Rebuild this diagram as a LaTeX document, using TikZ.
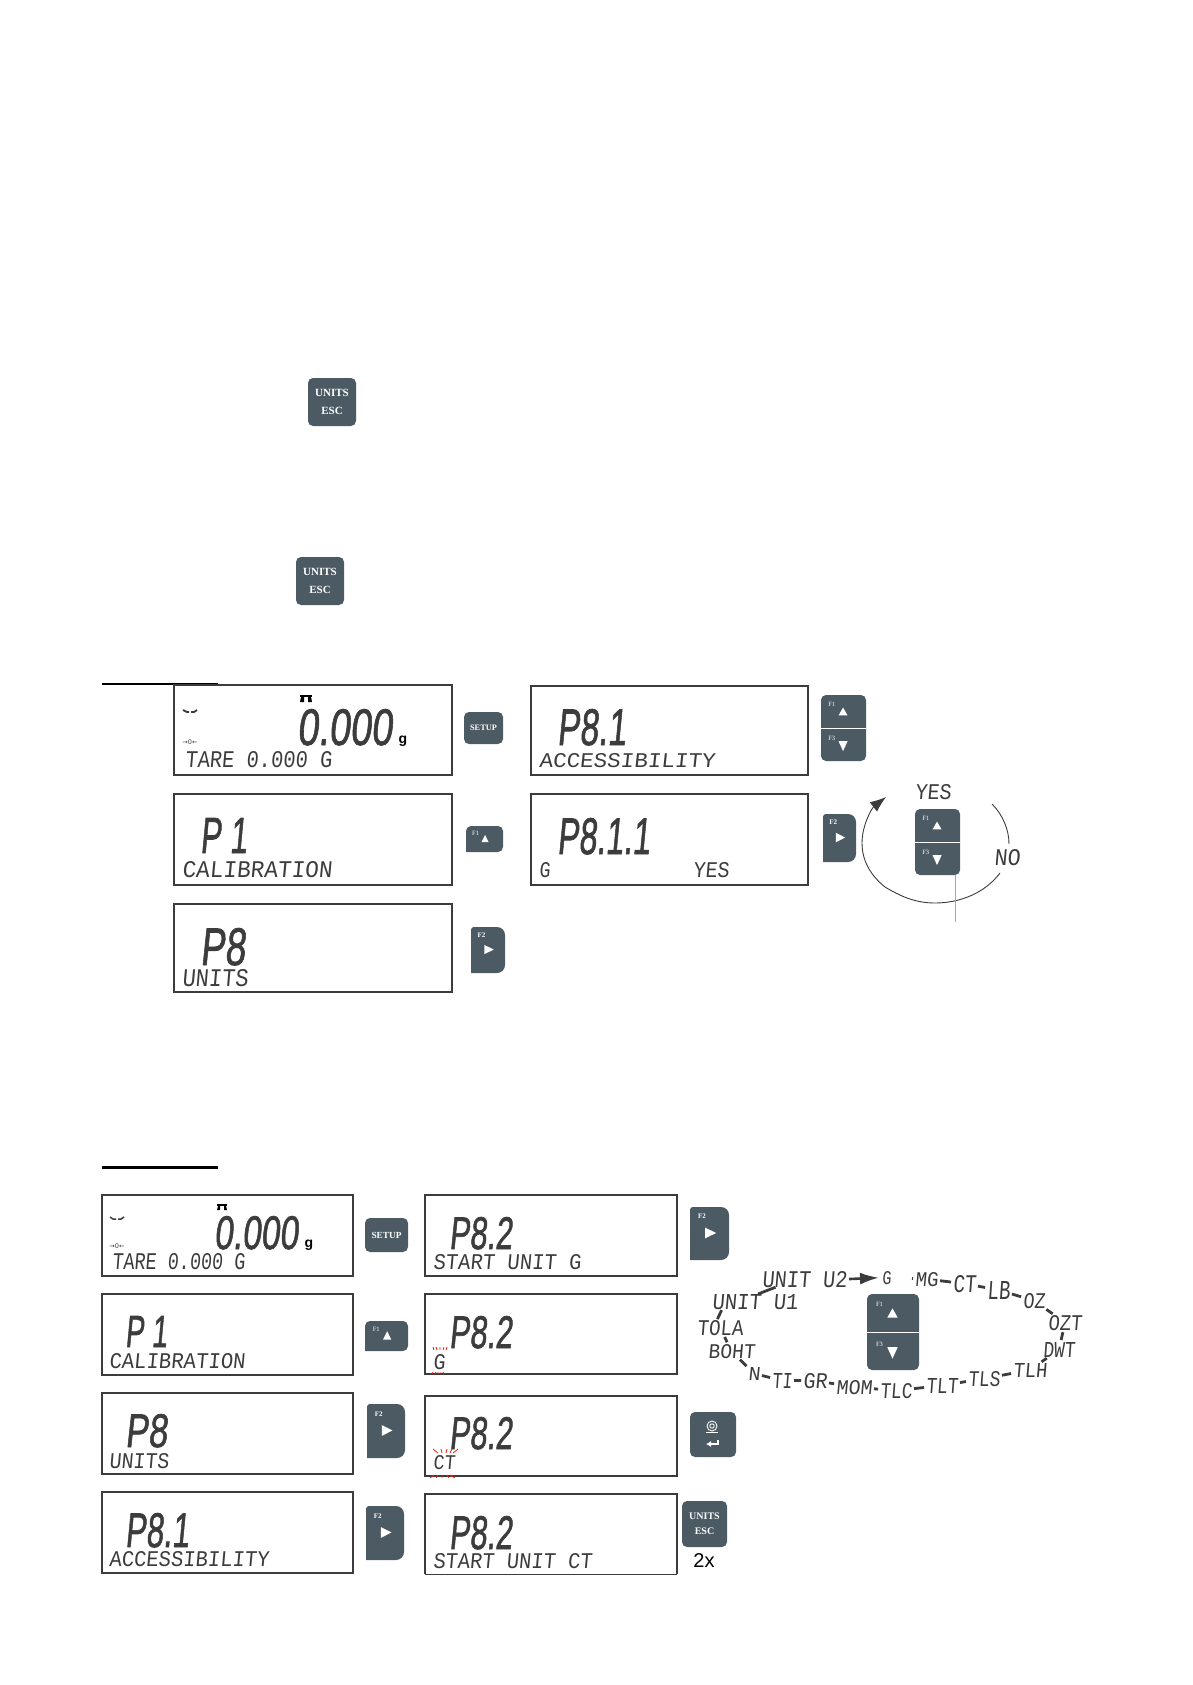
\documentclass[tikz,border=0pt]{standalone}
\usepackage{graphicx}
\usepackage{fontspec}
\usetikzlibrary{arrows.meta}
\newfontfamily\lcdbig[FakeSlant=0.15,FakeBold=1.5]{Liberation Sans}
\newfontfamily\lcdsmall[FakeSlant=0.1]{Liberation Mono}
\newfontfamily\keyfont{Liberation Serif}
\newfontfamily\symfont{DejaVu Sans}
\newfontfamily\plainsans{Liberation Sans}
\definecolor{keygrey}{HTML}{4C5A64}
\definecolor{lcdink}{HTML}{3C3C3C}
\newcommand{\lcdfit}[3]{\resizebox{#1pt}{#2pt}{#3}}
\newcommand{\keyupdown}[5]{
    \node(#1)[keybody,minimum width=#4,minimum height=#5] at (#2+#4/2,#3+#5/2){};
    \draw[white,line width=1](#1.west)--(#1.east);
    \node(#1up)[keytag] at (#2+#4*0.24,#3+#5*0.14){F1};
    \node(#1down)[keytag] at (#2+#4*0.24,#3+#5*0.66){F3};
    \fill[white](#2+#4*0.39,#3+#5*0.31)--(#2+#4*0.59,#3+#5*0.31)--(#2+#4*0.49,#3+#5*0.19)--cycle;
    \fill[white](#2+#4*0.39,#3+#5*0.70)--(#2+#4*0.59,#3+#5*0.70)--(#2+#4*0.49,#3+#5*0.85)--cycle;
}
\newcommand{\keyup}[5]{
    \fill[keygrey,rounded corners=5](#2,#3+#5)--(#2,#3)--(#2+#4,#3)--(#2+#4,#3+#5)[sharp corners]--cycle;
    \node(#1)[keytag] at (#2+#4*0.26,#3+#5*0.28){F1};
    \fill[white](#2+#4*0.42,#3+#5*0.62)--(#2+#4*0.61,#3+#5*0.62)--(#2+#4*0.515,#3+#5*0.34)--cycle;
}
\newcommand{\keyright}[5]{
    \fill[keygrey](#2,#3+#5)--(#2,#3+2)--(#2+2,#3)[rounded corners=8]--(#2+#4,#3)--(#2+#4,#3+#5)[sharp corners]--cycle;
    \node(#1)[keytag,font=\keyfont\bfseries\fontsize{7}{7}\selectfont] at (#2+#4*0.31,#3+#5*0.18){F2};
    \fill[white](#2+#4*0.39,#3+#5*0.39)--(#2+#4*0.67,#3+#5*0.49)--(#2+#4*0.39,#3+#5*0.59)--cycle;
}
\begin{document}
\begin{tikzpicture}[x=1pt,y=-1pt]
    \tikzstyle{lcd frame}=[draw=lcdink,line width=1.6,inner sep=0,outer sep=0]
    \tikzstyle{big text}=[anchor=north west,inner sep=0,outer sep=0,text=lcdink,font=\lcdbig\fontsize{46}{46}\selectfont]
    \tikzstyle{small text}=[anchor=north west,inner sep=0,outer sep=0,text=lcdink,font=\lcdsmall\fontsize{22}{22}\selectfont]
    \tikzstyle{zero mark}=[inner sep=0,text=lcdink,font=\symfont\fontsize{6.5}{6.5}\selectfont]
    \tikzstyle{unit mark}=[inner sep=0,text=black,font=\plainsans\bfseries\fontsize{14}{14}\selectfont]
    \tikzstyle{keybody}=[fill=keygrey,rounded corners=5,inner sep=0,outer sep=0]
    \tikzstyle{keytext}=[keybody,text=white,align=center,font=\keyfont\bfseries\fontsize{10}{15}\selectfont]
    \tikzstyle{keytag}=[inner sep=0,text=white,font=\keyfont\fontsize{6.5}{6.5}\selectfont]
    \tikzstyle{ring dash}=[draw=lcdink,line width=2.8,shorten <=2,shorten >=2]
    \tikzstyle{red rays}=[draw=red!80!orange,line width=0.8]
    \useasboundingbox (0,0) rectangle (1192,1685);

    \node(escone)[keytext,minimum width=48,minimum height=48,font=\keyfont\bfseries\fontsize{11}{18}\selectfont] at (332,402){UNITS\\ESC};
    \node(esctwo)[keytext,minimum width=48,minimum height=48,font=\keyfont\bfseries\fontsize{11}{18}\selectfont] at (320,581){UNITS\\ESC};

    \draw[line width=2](102,684)--(218,684);
    \node(topa)[lcd frame,minimum width=278,minimum height=90] at (313,730){};
    \node(topb)[lcd frame,minimum width=278,minimum height=91] at (313,839.5){};
    \node(topc)[lcd frame,minimum width=278,minimum height=88] at (313,948){};
    \node(topd)[lcd frame,minimum width=277,minimum height=89] at (669.5,730.5){};
    \node(tope)[lcd frame,minimum width=277,minimum height=91] at (669.5,839.5){};

    \fill[black](300,695)rectangle(312,697);
    \fill[black](301,697)--(304,697)--(304,702)--(300,702)--cycle;
    \fill[black](308,697)--(311,697)--(312,702)--(308,702)--cycle;
    \draw[lcdink,line width=1.8](183,710)--(187,712)--(189,712);
    \draw[lcdink,line width=1.8](191,712)--(194,712)--(197,710);
    \node(zeroa)[zero mark] at (190,742){→0←};
    \node(weigha)[big text] at (297,709){\lcdfit{95}{36}{0.000}};
    \node(grama)[unit mark] at (403,741){g};
    \node(tarea)[small text] at (185,751){\lcdfit{147}{16}{TARE 0.000 G}};
    \node(pone)[big text] at (200,818){\lcdfit{47}{35}{P 1}};
    \node(calib)[small text] at (182,861){\lcdfit{150}{16}{CALIBRATION}};
    \node(peight)[big text] at (200,928){\lcdfit{45}{37}{P8}};
    \node(units)[small text] at (182,969){\lcdfit{66}{17}{UNITS}};
    \node(peightone)[big text] at (557,709){\lcdfit{69}{36}{P8.1}};
    \node(access)[small text] at (539,753){\lcdfit{176}{14}{ACCESSIBILITY}};
    \node(pointone)[big text] at (557,818){\lcdfit{93}{36}{P8.1.1}};
    \node(gtext)[small text] at (539,862){\lcdfit{11}{15}{G}};
    \node(yestext)[small text] at (693,862){\lcdfit{36}{15}{YES}};

    \node(setupa)[keytext,minimum width=39,minimum height=32,font=\keyfont\bfseries\fontsize{8.3}{8.3}\selectfont] at (483.5,728){SETUP};
    \keyup{upa}{466}{826}{37}{26}
    \keyright{keyrighta}{471}{927}{34}{46}
    \keyupdown{updowna}{821}{695}{45}{66}
    \keyright{keyrightb}{823}{814}{33}{48}
    \keyupdown{updownb}{915}{809}{45}{66}

    \node(yesring)[small text] at (915,784){\lcdfit{36}{15}{YES}};
    \node(noring)[small text] at (994,849){\lcdfit{26}{16}{NO}};
    \draw[lcdink,line width=0.9](992,804)..controls (1003,815) and (1009,830)..(1009,844);
    \draw[lcdink,line width=0.9,-{Latex[length=16,width=12]}](1000,873)..controls (985,893) and (960,903)..(935,903)..controls (915,903) and (900,896)..(885,887)..controls (870,875) and (862,860)..(862,843)..controls (862,825) and (872,808)..(886,797);
    \coordinate(greyfoot) at (955,922);
    \draw[gray!70,line width=0.8](greyfoot |- updownb.south)--(greyfoot);

    \draw[line width=3](102,1167)--(218,1167);
    \node(lefta)[lcd frame,minimum width=251,minimum height=81] at (227.5,1235.5){};
    \node(leftb)[lcd frame,minimum width=251,minimum height=81] at (227.5,1334.5){};
    \node(leftc)[lcd frame,minimum width=251,minimum height=81] at (227.5,1433.5){};
    \node(leftd)[lcd frame,minimum width=251,minimum height=81] at (227.5,1532.5){};
    \node(righta)[lcd frame,minimum width=252,minimum height=81] at (551,1235.5){};
    \node(rightb)[lcd frame,minimum width=252,minimum height=80] at (551,1334){};
    \node(rightc)[lcd frame,minimum width=252,minimum height=80] at (551,1436){};
    \node(rightd)[inner sep=0,outer sep=0,minimum width=252,minimum height=80] at (551,1534){};
    \draw[lcdink,line width=1.6](rightd.south west)|-(rightd.north east)--(rightd.south east);
    \draw[lcdink,line width=0.5](rightd.south west)--(rightd.south east);

    \fill[black](217,1204)rectangle(227,1206);
    \fill[black](218,1206)--(220,1206)--(220,1210)--(217,1210)--cycle;
    \fill[black](224,1206)--(226,1206)--(227,1210)--(224,1210)--cycle;
    \draw[lcdink,line width=1.5](110,1217)--(113,1219)--(116,1219);
    \draw[lcdink,line width=1.5](118,1219)--(121,1219)--(124,1217);
    \node(zerob)[zero mark] at (117,1246){→0←};
    \node(weighb)[big text] at (214,1216){\lcdfit{84}{33}{0.000}};
    \node(gramb)[unit mark] at (309,1245){g};
    \node(tareb)[small text] at (112,1253){\lcdfit{133}{16}{TARE 0.000 G}};
    \node(poneb)[big text] at (125,1316){\lcdfit{42}{31}{P 1}};
    \node(calibb)[small text] at (109,1353){\lcdfit{136}{15}{CALIBRATION}};
    \node(peightb)[big text] at (125,1414){\lcdfit{42}{33}{P8}};
    \node(unitsb)[small text] at (109,1453){\lcdfit{60}{15}{UNITS}};
    \node(peightoneb)[big text] at (125,1513){\lcdfit{64}{34}{P8.1}};
    \node(accessb)[small text] at (109,1551){\lcdfit{160}{15}{ACCESSIBILITY}};

    \node(ptwoa)[big text] at (449,1217){\lcdfit{63}{32}{P8.2}};
    \node(startg)[small text] at (433,1254){\lcdfit{148}{15}{START UNIT G}};
    \node(ptwob)[big text] at (449,1316){\lcdfit{63}{32}{P8.2}};
    \node(blinkg)[small text] at (433,1354){\lcdfit{12}{15}{G}};
    \node(ptwoc)[big text] at (449,1417){\lcdfit{63}{32}{P8.2}};
    \node(blinkct)[small text] at (433,1455){\lcdfit{22}{14}{CT}};
    \node(ptwod)[big text] at (449,1516){\lcdfit{63}{33}{P8.2}};
    \node(startct)[small text] at (433,1553){\lcdfit{159}{15}{START UNIT CT}};

    \draw[red rays](433,1347)--(434,1350)(436,1347)--(437,1350)(440,1347)--(440,1350)(444,1347)--(443,1350)(447,1347)--(446,1350);
    \draw[red rays](432,1374)--(433,1372)(435,1374)--(436,1372)(438,1374)--(438,1372)(441,1374)--(441,1372)(444,1374)--(443,1372);
    \draw[red rays](433,1449)--(438,1453)(441,1449)--(442,1453)(447,1449)--(446,1453)(452,1449)--(450,1453)(458,1449)--(453,1453);
    \draw[red rays](430,1478)--(434,1475)(436,1478)--(438,1475)(442,1478)--(442,1475)(449,1478)--(447,1475)(455,1478)--(450,1475);

    \node(setupb)[keytext,minimum width=43,minimum height=34,font=\keyfont\bfseries\fontsize{9.3}{9.3}\selectfont] at (386.5,1235){SETUP};
    \keyup{upb}{365}{1321}{43}{30}
    \keyright{keyrightc}{367}{1404}{38}{54}
    \keyright{keyrightd}{366}{1506}{38}{54}
    \keyright{keyrighte}{690}{1207}{39}{53}
    \node(enterkey)[keybody,minimum width=46,minimum height=45] at (713,1434.5){};
    \draw[white,line width=0.9](712,1426)circle(5)circle(2.2);
    \draw[white,line width=0.9](706,1432.5)--(718,1432.5);
    \draw[white,line width=1.6,-{Latex[length=5,width=6]}](718,1440)--(718,1444)--(706,1444);
    \node(escthree)[keytext,minimum width=45,minimum height=46] at (704.5,1524){UNITS\\ESC};
    \node(twotimes)[inner sep=0,text=black,font=\plainsans\fontsize{20}{20}\selectfont] at (704,1560){2x};

    \keyupdown{updownc}{867}{1294}{52}{76}
    \node(unitb)[small text] at (762,1271){\lcdfit{85}{16}{UNIT U2}};
    \node(ga)[small text] at (882,1271){\lcdfit{9}{13}{G}};
    \node(mg)[small text] at (915,1272){\lcdfit{23}{14}{MG}};
    \node(ct)[small text] at (953,1275){\lcdfit{23}{17}{CT}};
    \node(lb)[small text] at (987,1281){\lcdfit{23}{18}{LB}};
    \node(oz)[small text] at (1023,1293){\lcdfit{22}{15}{OZ}};
    \node(ozt)[small text] at (1048,1315){\lcdfit{34}{15}{OZT}};
    \node(dwt)[small text] at (1043,1342){\lcdfit{32}{15}{DWT}};
    \node(tlh)[small text] at (1013,1363){\lcdfit{34}{14}{TLH}};
    \node(tls)[small text] at (968,1371){\lcdfit{32}{15}{TLS}};
    \node(tlt)[small text] at (926,1378){\lcdfit{32}{15}{TLT}};
    \node(tlc)[small text] at (880,1383){\lcdfit{32}{15}{TLC}};
    \node(mom)[small text] at (836,1380){\lcdfit{36}{14}{MOM}};
    \node(gr)[small text] at (803,1373){\lcdfit{24}{15}{GR}};
    \node(ti)[small text] at (772,1373){\lcdfit{20}{15}{TI}};
    \node(na)[small text] at (748,1367){\lcdfit{12}{13}{N}};
    \node(boht)[small text] at (708,1344){\lcdfit{47}{14}{BOHT}};
    \node(tola)[small text] at (697,1320){\lcdfit{46}{15}{TOLA}};
    \node(unita)[small text] at (712,1294){\lcdfit{86}{15}{UNIT U1}};

    \draw[lcdink,line width=2.6,-{Latex[length=19,width=12]},shorten <=2,shorten >=3](unitb.east)--(ga.west);
    \draw[ring dash,shorten <=21](ga)--(mg);
    \draw[ring dash](mg)--(ct);
    \draw[ring dash](ct)--(lb);
    \draw[ring dash](lb)--(oz);
    \draw[ring dash](oz)--(ozt);
    \draw[ring dash](ozt)--(dwt);
    \draw[ring dash](dwt)--(tlh);
    \draw[ring dash](tlh)--(tls);
    \draw[ring dash](tls)--(tlt);
    \draw[ring dash](tlt)--(tlc);
    \draw[ring dash](tlc)--(mom);
    \draw[ring dash](mom)--(gr);
    \draw[ring dash](gr)--(ti);
    \draw[ring dash](ti)--(na);
    \draw[ring dash](na)--(boht);
    \draw[ring dash](boht)--(tola);
    \draw[ring dash,shorten <=1,shorten >=1]([xshift=-3]tola.north)--([xshift=-33]unita.south);
    \draw[ring dash,shorten <=0,shorten >=0]([xshift=3]unita.north)--([xshift=-29]unitb.south);
\end{tikzpicture}
\end{document}
